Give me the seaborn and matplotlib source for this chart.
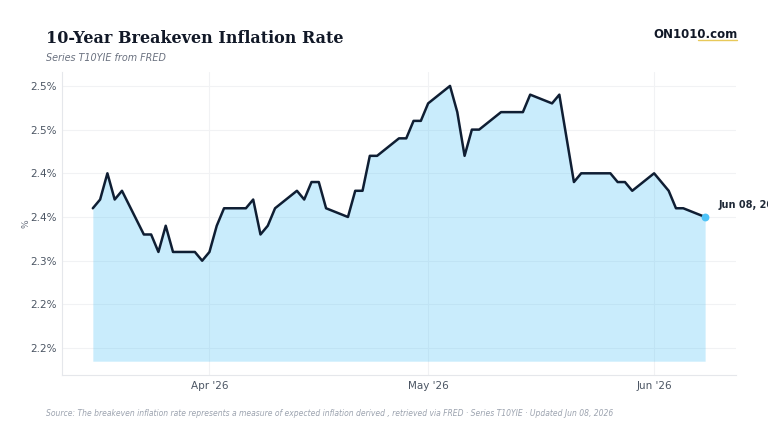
import pandas as pd
import matplotlib
matplotlib.use("Agg")
import matplotlib.pyplot as plt
import matplotlib.dates as mdates
from matplotlib.lines import Line2D
import seaborn as sns

# T10YIE daily values (business days, holidays skipped)
dates = [
    "2026-03-16", "2026-03-17", "2026-03-18", "2026-03-19", "2026-03-20",
    "2026-03-23", "2026-03-24", "2026-03-25", "2026-03-26", "2026-03-27",
    "2026-03-30", "2026-03-31", "2026-04-01", "2026-04-02", "2026-04-03",
    "2026-04-06", "2026-04-07", "2026-04-08", "2026-04-09", "2026-04-10",
    "2026-04-13", "2026-04-14", "2026-04-15", "2026-04-16", "2026-04-17",
    "2026-04-20", "2026-04-21", "2026-04-22", "2026-04-23", "2026-04-24",
    "2026-04-27", "2026-04-28", "2026-04-29", "2026-04-30", "2026-05-01",
    "2026-05-04", "2026-05-05", "2026-05-06", "2026-05-07", "2026-05-08",
    "2026-05-11", "2026-05-12", "2026-05-13", "2026-05-14", "2026-05-15",
    "2026-05-18", "2026-05-19", "2026-05-20", "2026-05-21", "2026-05-22",
    "2026-05-26", "2026-05-27", "2026-05-28", "2026-05-29",
    "2026-06-01", "2026-06-02", "2026-06-03", "2026-06-04", "2026-06-05",
    "2026-06-08",
]
rate = [
    2.36, 2.37, 2.40, 2.37, 2.38,
    2.33, 2.33, 2.31, 2.34, 2.31,
    2.31, 2.30, 2.31, 2.34, 2.36,
    2.36, 2.37, 2.33, 2.34, 2.36,
    2.38, 2.37, 2.39, 2.39, 2.36,
    2.35, 2.38, 2.38, 2.42, 2.42,
    2.44, 2.44, 2.46, 2.46, 2.48,
    2.50, 2.47, 2.42, 2.45, 2.45,
    2.47, 2.47, 2.47, 2.47, 2.49,
    2.48, 2.49, 2.44, 2.39, 2.40,
    2.40, 2.39, 2.39, 2.38,
    2.40, 2.39, 2.38, 2.36, 2.36,
    2.35,
]
fill_base = 2.185
y_ticks = [2.20, 2.25, 2.30, 2.35, 2.40, 2.45, 2.50]
y_tick_labels = ["2.2%", "2.2%", "2.3%", "2.4%", "2.4%", "2.5%", "2.5%"]

df = pd.DataFrame({"Date": pd.to_datetime(dates), "Rate": rate})

sns.set_style("whitegrid", {"grid.color": "#f1f2f4", "axes.edgecolor": "#e5e7eb"})
plt.rcParams["font.family"] = ["DejaVu Sans"]

fig, ax = plt.subplots(figsize=(7.68, 4.32), dpi=100)
fig.subplots_adjust(left=0.081, right=0.958, bottom=0.132, top=0.833)

ax.fill_between(df["Date"], df["Rate"], fill_base, color="#4fc3f7", alpha=0.3, lw=0)
sns.lineplot(data=df, x="Date", y="Rate", ax=ax, color="#0f1e33", lw=1.8)
last = df.iloc[-1]
ax.scatter([last["Date"]], [last["Rate"]], s=32, color="#4fc3f7", zorder=5, lw=0)
# the reference lets this label run past the right edge of the figure
ax.annotate("Jun 08, 2026", xy=(last["Date"], last["Rate"]), xytext=(10, 8.5),
            textcoords="offset points", va="center", fontsize=7, fontweight="bold",
            color="#1f2937", annotation_clip=False)

ax.xaxis.set_major_locator(mdates.MonthLocator())
ax.xaxis.set_major_formatter(mdates.DateFormatter("%b '%y"))
ax.set_yticks(y_ticks)
ax.set_yticklabels(y_tick_labels)
ax.tick_params(length=0, labelsize=7.5, colors="#4b5563", pad=4)
ax.set_xlabel("")
ax.set_ylabel("%", fontsize=6.5, color="#6b7280", labelpad=0)
for s in ["top", "right"]:
    ax.spines[s].set_visible(False)
for s in ["left", "bottom"]:
    ax.spines[s].set_color("#e5e7eb")
    ax.spines[s].set_linewidth(0.8)
ax.grid(True, lw=0.8)

fig.text(0.06, 0.912, "10-Year Breakeven Inflation Rate", family="DejaVu Serif",
         fontweight="bold", fontsize=11.5, color="#111827", va="center")
fig.text(0.06, 0.866, "Series T10YIE from FRED", fontsize=6.9, style="italic",
         color="#6b7280", va="center")
fig.text(0.96, 0.919, "ON1010.com", fontsize=8.5, fontweight="bold",
         color="#111827", ha="right", va="center")
fig.add_artist(Line2D([0.909, 0.96], [0.907, 0.907], transform=fig.transFigure,
                      color="#e8c95a", lw=1.0))
fig.text(0.06, 0.0417,
         "Source: The breakeven inflation rate represents a measure of expected inflation "
         "derived , retrieved via FRED \u00b7 Series T10YIE \u00b7 Updated Jun 08, 2026",
         fontsize=5.5, style="italic", color="#9ca3af", va="center")

fig.savefig("out.png", dpi=100)
